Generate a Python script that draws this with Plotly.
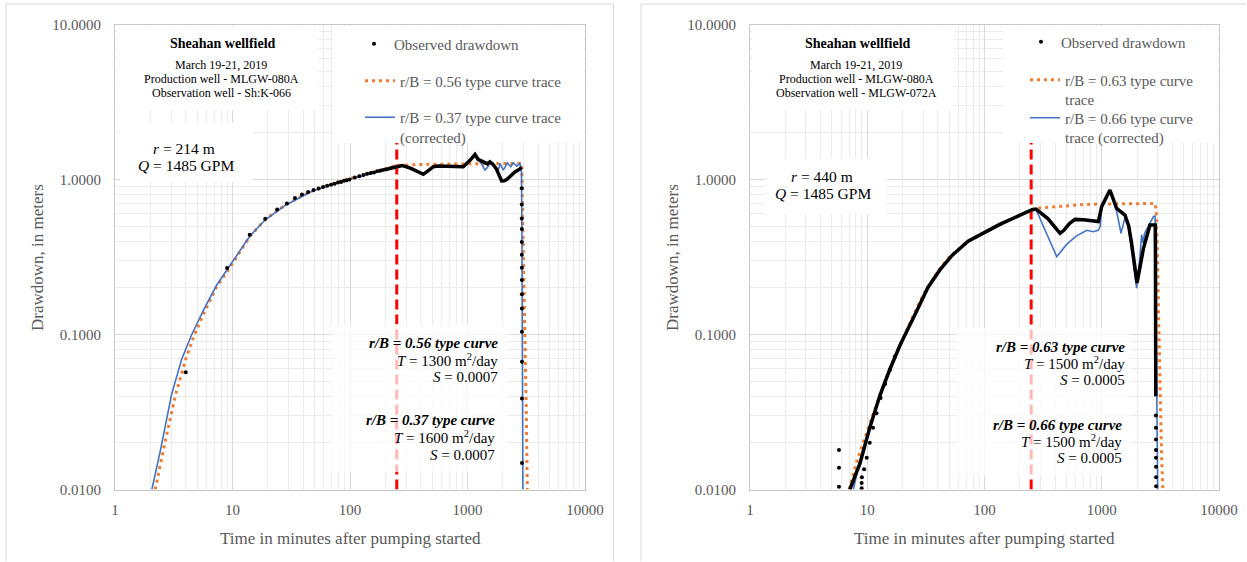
import plotly.graph_objects as go

W, H = 1247, 562

# ---------------- Data: left panel (observation well Sh:K-066) ----------------
left_obs_t = [4, 9, 14, 19, 24, 29, 34, 39, 44, 49, 54, 59, 64, 69, 74, 79, 84, 89, 94, 99,
              110, 120, 130, 140, 150, 160, 170, 180, 190, 200, 210, 220, 230, 240]
left_obs_s = [0.057, 0.269, 0.44, 0.558, 0.64, 0.70, 0.76, 0.80, 0.83, 0.857, 0.875, 0.895, 0.91,
              0.925, 0.94, 0.955, 0.965, 0.98, 0.99, 1.0, 1.03, 1.05, 1.07, 1.09, 1.10, 1.11, 1.13,
              1.14, 1.15, 1.16, 1.17, 1.18, 1.19, 1.20]
left_dense_t = [250, 280, 330, 390, 421, 470, 512, 560, 653, 800, 921, 1050, 1158, 1230, 1300,
                1409, 1480, 1553, 1650, 1750, 1828, 1954, 2050, 2155, 2350, 2535, 2797, 2884]
left_dense_s = [1.21, 1.23, 1.18, 1.12, 1.08, 1.15, 1.21, 1.22, 1.22, 1.22, 1.21, 1.33, 1.45, 1.35,
                1.32, 1.27, 1.26, 1.30, 1.25, 1.18, 1.107, 0.978, 0.98, 1.0, 1.06, 1.12, 1.17, 1.2]
left_recovery_t = [2895, 2896, 2897, 2898, 2899, 2900, 2901, 2902, 2903, 2904, 2905, 2906, 2907, 2908]
left_recovery_s = [0.879, 0.69, 0.56, 0.48, 0.395, 0.327, 0.27, 0.225, 0.182, 0.147, 0.104,
                   0.0667, 0.0386, 0.0148]
left_orange_t = [2.2, 2.58, 3.28, 4.0, 4.7, 5.75, 7.3, 9.3, 14, 19, 28.5, 46, 75, 103, 166, 250,
                 400, 700, 1200, 2000, 2890, 2950, 3000, 3070, 3150, 3230]
left_orange_s = [0.01, 0.018, 0.041, 0.0695, 0.098, 0.139, 0.202, 0.264, 0.428, 0.552, 0.69, 0.834,
                 0.953, 1.02, 1.12, 1.23, 1.25, 1.26, 1.265, 1.27, 1.27, 0.6, 0.25, 0.12, 0.04, 0.01]
left_blue_t = [2.06, 2.44, 3.03, 3.7, 4.5, 5.75, 7.3, 9.3, 14, 19, 28.5, 46, 75, 103, 166, 250, 280,
               330, 390, 421, 470, 512, 560, 653, 800, 921, 1050, 1158, 1230, 1300, 1409, 1480,
               1553, 1650, 1750, 1828, 1892, 2017, 2183, 2333, 2455, 2624, 2797, 2880, 2900, 2915,
               2930, 2945, 2960]
left_blue_s = [0.01, 0.018, 0.041, 0.0695, 0.1, 0.147, 0.207, 0.27, 0.43, 0.55, 0.685, 0.83, 0.95,
               1.01, 1.11, 1.21, 1.23, 1.18, 1.12, 1.08, 1.15, 1.21, 1.22, 1.22, 1.22, 1.21, 1.33,
               1.45, 1.35, 1.28, 1.15, 1.2, 1.28, 1.24, 1.18, 1.15, 1.27, 1.15, 1.28, 1.21, 1.28,
               1.22, 1.27, 1.12, 0.6, 0.15, 0.05, 0.02, 0.01]

# ---------------- Data: right panel (observation well MLGW-072A) ----------------
right_obs_t = [5.74, 5.74, 5.74, 8.96, 8.96, 9.0, 9.4, 9.9, 10.5, 11.2, 12, 13, 14.2, 15.6, 17.2]
right_obs_s = [0.018, 0.0138, 0.0104, 0.0102, 0.011, 0.012, 0.0135, 0.016, 0.02, 0.025, 0.031,
               0.039, 0.048, 0.059, 0.072]
right_dense_t = [7.1, 8.68, 10.5, 12.9, 15.5, 19.1, 26.1, 33, 41.8, 52.9, 72.5, 99, 136, 201, 255,
                 275, 347, 441, 475, 530, 591, 700, 935, 1000, 1175, 1341, 1578, 1700, 1800, 2000,
                 2100, 2270, 2578, 2860, 2870, 2880, 2890]
right_dense_s = [0.01, 0.0148, 0.025, 0.041, 0.059, 0.086, 0.139, 0.202, 0.262, 0.324, 0.40, 0.456,
                 0.515, 0.589, 0.638, 0.645, 0.56, 0.45, 0.47, 0.52, 0.553, 0.55, 0.535, 0.67,
                 0.855, 0.65, 0.59, 0.5, 0.385, 0.215, 0.26, 0.36, 0.508, 0.508, 0.3, 0.1, 0.04]
right_recovery_t = [2895, 2897, 2899, 2901, 2903, 2905, 2907, 2909]
right_recovery_s = [0.03, 0.025, 0.021, 0.018, 0.016, 0.014, 0.012, 0.0105]
right_orange_t = [7.0, 8, 9, 10, 12, 14, 17, 20, 25, 30, 40, 50, 70, 100, 150, 200, 250, 300, 500,
                  700, 1000, 2000, 2860, 2920, 3000, 3077, 3150, 3250, 3325]
right_orange_s = [0.01, 0.0145, 0.019, 0.024, 0.036, 0.049, 0.07, 0.093, 0.135, 0.18, 0.255, 0.315,
                  0.395, 0.455, 0.53, 0.59, 0.64, 0.655, 0.675, 0.69, 0.695, 0.70, 0.70, 0.6, 0.3,
                  0.1, 0.04, 0.015, 0.01]
right_blue_t = [7.6, 8.5, 10, 12, 15, 20, 25, 30, 40, 50, 70, 100, 150, 200, 250, 275, 413, 500, 600,
                745, 847, 935, 970, 1000, 1175, 1341, 1460, 1590, 1670, 1800, 1986, 2100, 2188,
                2250, 2320, 2500, 2754, 2850, 2880, 2950, 3000]
right_blue_s = [0.01, 0.0145, 0.022, 0.034, 0.054, 0.09, 0.13, 0.175, 0.25, 0.31, 0.39, 0.45, 0.525,
                0.585, 0.635, 0.64, 0.318, 0.38, 0.43, 0.47, 0.46, 0.47, 0.5, 0.66, 0.855, 0.62,
                0.45, 0.58, 0.52, 0.34, 0.199, 0.3, 0.44, 0.39, 0.45, 0.5, 0.575, 0.58, 0.3, 0.05,
                0.01]

break_time_min = 250  # red dashed reference line

x_tick_vals = [1, 10, 100, 1000, 10000]
x_tick_text = ["1", "10", "100", "1000", "10000"]
y_tick_vals = [0.01, 0.1, 1, 10]
y_tick_text = ["0.0100", "0.1000", "1.0000", "10.0000"]

# ---------------- Styling ----------------
FONT = "Liberation Serif"
GRAY = "#595959"
BLACK = "#000000"
ORANGE = "#ED7D31"
BLUE = "#4472C4"
RED = "#FF0000"

# pixel geometry of the two plot areas
PLOT_Y0, PLOT_Y1 = 24.5, 489.5
LEFT_X0, LEFT_X1 = 115, 585
RIGHT_X0, RIGHT_X1 = 750, 1219
X_LOG_RANGE = (0, 4)
Y_LOG_RANGE = (-2, 1)


def fx(p):
    return p / W


def fy(p):
    return 1 - p / H


fig = go.Figure()


def add_panel(xa, ya, obs_t, obs_s, rec_t, rec_s, dense_t, dense_s, or_t, or_s, bl_t, bl_s,
              names, legends):
    fig.add_trace(go.Scatter(x=or_t, y=or_s, mode="lines", name=names[1], legend=legends[1],
                             line=dict(color=ORANGE, width=3, dash="3px,4px"),
                             xaxis=xa, yaxis=ya, hoverinfo="skip"))
    fig.add_trace(go.Scatter(x=bl_t, y=bl_s, mode="lines", name=names[2], legend=legends[2],
                             line=dict(color=BLUE, width=1.6),
                             xaxis=xa, yaxis=ya, hoverinfo="skip"))
    fig.add_trace(go.Scatter(x=dense_t, y=dense_s, mode="lines", showlegend=False,
                             line=dict(color=BLACK, width=3.5),
                             xaxis=xa, yaxis=ya, hoverinfo="skip"))
    fig.add_trace(go.Scatter(x=list(obs_t) + list(rec_t), y=list(obs_s) + list(rec_s),
                             mode="markers", name=names[0], legend=legends[0],
                             marker=dict(color=BLACK, size=4, symbol="circle"),
                             xaxis=xa, yaxis=ya, hoverinfo="skip"))


add_panel("x", "y", left_obs_t, left_obs_s, left_recovery_t, left_recovery_s,
          left_dense_t, left_dense_s, left_orange_t, left_orange_s, left_blue_t, left_blue_s,
          ["Observed drawdown", "r/B = 0.56 type curve trace",
           "r/B = 0.37 type curve trace<br>(corrected)"],
          ["legend", "legend2", "legend3"])
add_panel("x2", "y2", right_obs_t, right_obs_s, right_recovery_t, right_recovery_s,
          right_dense_t, right_dense_s, right_orange_t, right_orange_s, right_blue_t, right_blue_s,
          ["Observed drawdown", "r/B = 0.63 type curve<br>trace",
           "r/B = 0.66 type curve<br>trace (corrected)"],
          ["legend4", "legend5", "legend6"])

minor_vals = [m * 10 ** k for k in range(-2, 4) for m in range(2, 10)]


def axis_common():
    return dict(
        type="log", showgrid=True, gridcolor="#D9D9D9", gridwidth=1,
        showline=True, linecolor="#C8C8C8", linewidth=1, mirror=True,
        ticks="", zeroline=False, fixedrange=True, automargin=False,
        tickfont=dict(family=FONT, size=15, color=GRAY),
        minor=dict(tickvals=minor_vals, showgrid=True, gridcolor="#EBEBEB", gridwidth=1, ticks=""),
    )


ydom = [fy(PLOT_Y1), fy(PLOT_Y0)]
fig.update_layout(
    xaxis=dict(**axis_common(), domain=[fx(LEFT_X0), fx(LEFT_X1)], range=list(X_LOG_RANGE),
               tickvals=x_tick_vals, ticktext=x_tick_text, anchor="y", ticklabelstandoff=6),
    yaxis=dict(**axis_common(), domain=ydom, range=list(Y_LOG_RANGE),
               tickvals=y_tick_vals, ticktext=y_tick_text, anchor="x", ticklabelstandoff=10),
    xaxis2=dict(**axis_common(), domain=[fx(RIGHT_X0), fx(RIGHT_X1)], range=list(X_LOG_RANGE),
                tickvals=x_tick_vals, ticktext=x_tick_text, anchor="y2", ticklabelstandoff=6),
    yaxis2=dict(**axis_common(), domain=ydom, range=list(Y_LOG_RANGE),
                tickvals=y_tick_vals, ticktext=y_tick_text, anchor="x2", ticklabelstandoff=10),
)

# legends (one per entry so the rows sit where the reference has them)
leg_font = dict(family=FONT, size=15, color=GRAY)


def legend_at(xpx, ypx):
    return dict(x=fx(xpx), y=fy(ypx), xanchor="left", yanchor="top", xref="paper", yref="paper",
                bgcolor="rgba(0,0,0,0)", borderwidth=0, font=leg_font, valign="top",
                itemwidth=30, itemclick=False, itemdoubleclick=False)


fig.update_layout(
    legend=legend_at(354, 27.5),
    legend2=legend_at(360, 64.5),
    legend3=legend_at(360, 101),
    legend4=legend_at(1021, 25.5),
    legend5=legend_at(1025, 63.5),
    legend6=legend_at(1025, 101.5),
)

shapes = []
CARD = dict(color="#D9D9D9", width=1)


def card_line(px0, py0, px1, py1):
    return dict(type="line", xref="paper", yref="paper", x0=fx(px0), x1=fx(px1),
                y0=fy(py0), y1=fy(py1), line=CARD, layer="below")


# chart cards (left/top/right edges; they run off the bottom of the image)
shapes += [
    card_line(6, 4, 6, H - 1), card_line(6, 4, 613.5, 4), card_line(613.5, 4, 613.5, H - 1),
    card_line(641, 4, 641, H - 1), card_line(641, 4, W - 1, 4),
]


def px_to_t(px, ax0, ax1):
    span = X_LOG_RANGE[1] - X_LOG_RANGE[0]
    return 10 ** (X_LOG_RANGE[0] + span * (px - ax0) / (ax1 - ax0))


def py_to_s(py):
    span = Y_LOG_RANGE[1] - Y_LOG_RANGE[0]
    return 10 ** (Y_LOG_RANGE[1] - span * (py - PLOT_Y0) / (PLOT_Y1 - PLOT_Y0))


def box(xa, ya, px0, px1, py0, py1, ax0, ax1, fill="white"):
    return dict(type="rect", xref=xa, yref=ya,
                x0=px_to_t(px0, ax0, ax1), x1=px_to_t(px1, ax0, ax1),
                y0=py_to_s(py1), y1=py_to_s(py0),
                line=dict(width=0), fillcolor=fill, layer="between")


for xa, ya in (("x", "y"), ("x2", "y2")):
    shapes.append(dict(type="line", xref=xa, yref=ya, x0=break_time_min,
                       x1=break_time_min, y0=10 ** Y_LOG_RANGE[0], y1=10 ** Y_LOG_RANGE[1],
                       line=dict(color=RED, width=3, dash="10px,5px"), layer="between"))

# left panel boxes
shapes += [
    box("x", "y", 117, 319, 26, 110, LEFT_X0, LEFT_X1),
    box("x", "y", 120, 253, 123, 182, LEFT_X0, LEFT_X1),
    box("x", "y", 333, 584, 26, 143, LEFT_X0, LEFT_X1),
    box("x", "y", 331, 508, 324, 472, LEFT_X0, LEFT_X1, fill="rgba(255,255,255,0.72)"),
]
# right panel boxes
shapes += [
    box("x2", "y2", 752, 954, 26, 110, RIGHT_X0, RIGHT_X1),
    box("x2", "y2", 765, 887, 158, 214, RIGHT_X0, RIGHT_X1),
    box("x2", "y2", 1003, 1218, 26, 143, RIGHT_X0, RIGHT_X1),
    box("x2", "y2", 956, 1130, 328, 476, RIGHT_X0, RIGHT_X1, fill="rgba(255,255,255,0.72)"),
]
fig.update_layout(shapes=shapes)

annotations = []


def ann(text, xpx, ypx, size, xanchor="center", color=BLACK, angle=0):
    annotations.append(dict(text=text, x=fx(xpx), y=fy(ypx), xref="paper", yref="paper",
                            xanchor=xanchor, yanchor="middle", showarrow=False, textangle=angle,
                            font=dict(family=FONT, size=size, color=color)))


# axis titles
for cx, ylab_x in (((LEFT_X0 + LEFT_X1) / 2, 37), ((RIGHT_X0 + RIGHT_X1) / 2, 672)):
    ann("Time in minutes after pumping started", cx, 538, 17, color=GRAY)
    ann("Drawdown, in meters", ylab_x, 258, 17, color=GRAY, angle=-90)

# left panel texts
ann("<b>Sheahan wellfield</b>", 223, 43, 14)
ann("March 19-21, 2019", 221, 65, 12)
ann("Production well - MLGW-080A", 221, 79, 12)
ann("Observation well - Sh:K-066", 221, 93, 12)
ann("<i>r</i> = 214 m", 184, 148, 15.5)
ann("<i>Q</i> = 1485 GPM", 186, 165, 15.5)
ann("<b><i>r/B = 0.56 type curve</i></b>", 500, 343, 15, xanchor="right")
ann("<i>T</i> = 1300 m<sup>2</sup>/day", 500, 360, 15, xanchor="right")
ann("<i>S</i> = 0.0007", 500, 377, 15, xanchor="right")
ann("<b><i>r/B = 0.37 type curve</i></b>", 497, 420, 15, xanchor="right")
ann("<i>T</i> = 1600 m<sup>2</sup>/day", 497, 437, 15, xanchor="right")
ann("<i>S</i> = 0.0007", 497, 455, 15, xanchor="right")

# right panel texts
ann("<b>Sheahan wellfield</b>", 858, 43, 14)
ann("March 19-21, 2019", 856, 65, 12)
ann("Production well - MLGW-080A", 856, 79, 12)
ann("Observation well - MLGW-072A", 856, 93, 12)
ann("<i>r</i> = 440 m", 822, 177, 15.5)
ann("<i>Q</i> = 1485 GPM", 823, 193, 15.5)
ann("<b><i>r/B = 0.63 type curve</i></b>", 1127, 347, 15, xanchor="right")
ann("<i>T</i> = 1500 m<sup>2</sup>/day", 1127, 363, 15, xanchor="right")
ann("<i>S</i> = 0.0005", 1127, 380, 15, xanchor="right")
ann("<b><i>r/B = 0.66 type curve</i></b>", 1124, 425, 15, xanchor="right")
ann("<i>T</i> = 1500 m<sup>2</sup>/day", 1124, 441, 15, xanchor="right")
ann("<i>S</i> = 0.0005", 1124, 458, 15, xanchor="right")

fig.update_layout(
    annotations=annotations,
    width=W, height=H, autosize=False,
    margin=dict(l=0, r=0, t=0, b=0, pad=0, autoexpand=False),
    paper_bgcolor="white", plot_bgcolor="white",
    font=dict(family=FONT, color=GRAY),
)

fig.write_html("out.html", config={"displayModeBar": False, "staticPlot": True})
